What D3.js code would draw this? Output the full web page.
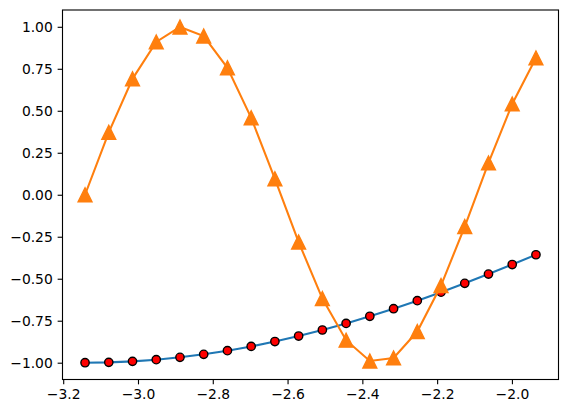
<!DOCTYPE html>
<html><head><meta charset="utf-8">
<script src="https://cdn.jsdelivr.net/npm/d3@7"></script>
<style>body{margin:0;background:#fff}svg{display:block}</style>
</head><body>
<script>
const xs = [-3.14159,-3.07813,-3.01466,-2.95119,-2.88773,-2.82426,-2.76080,-2.69733,-2.63386,-2.57040,-2.50693,-2.44346,-2.38000,-2.31653,-2.25306,-2.18960,-2.12613,-2.06267,-1.99920,-1.93573];
const blueY = [-1.0,-0.99799,-0.99195,-0.98193,-0.96795,-0.95007,-0.92837,-0.90293,-0.87385,-0.84125,-0.80527,-0.76604,-0.72373,-0.67851,-0.63057,-0.58009,-0.52730,-0.47241,-0.41564,-0.35722];
const orangeY = [0.0,0.37166,0.69008,0.90963,0.99882,0.94500,0.75575,0.45822,0.09506,-0.28173,-0.61816,-0.86603,-0.98982,-0.97181,-0.81457,-0.54064,-0.18925,0.18925,0.54064,0.81457];
const xTicks = [-3.2,-3.0,-2.8,-2.6,-2.4,-2.2,-2.0];
const yTicks = [-1.0,-0.75,-0.5,-0.25,0.0,0.25,0.5,0.75,1.0];

const W=568,H=413, L=62.5, R=558.5, T=10, B=379.5;
const pt = 100/72;
const svg = d3.select("body").append("svg").attr("width",W).attr("height",H);
const x = d3.scaleLinear().domain([-3.20189,-1.87543]).range([L,R]);
const y = d3.scaleLinear().domain([-1.1,1.1]).range([B,T]);
const fmtX = d => d3.format(".1f")(d).replace("-","\u2212");
const fmtY = d => d3.format(".2f")(d).replace("-","\u2212");

const line = d3.line().x(d=>x(d[0])).y(d=>y(d[1]));
const bData = xs.map((v,i)=>[v,blueY[i]]);
const oData = xs.map((v,i)=>[v,orangeY[i]]);

svg.append("path").datum(bData).attr("d",line).attr("fill","none").attr("stroke","#1f77b4").attr("stroke-width",1.5*pt).attr("stroke-linecap","square");
svg.selectAll("circle.b").data(bData).enter().append("circle")
  .attr("cx",d=>x(d[0])).attr("cy",d=>y(d[1])).attr("r",3*pt)
  .attr("fill","red").attr("stroke","black").attr("stroke-width",1*pt);

svg.append("path").datum(oData).attr("d",line).attr("fill","none").attr("stroke","#ff7f0e").attr("stroke-width",1.5*pt).attr("stroke-linecap","square");
const s = 5*pt;
svg.selectAll("path.t").data(oData).enter().append("path")
  .attr("d",d=>{const cx=x(d[0]),cy=y(d[1]);return `M${cx},${cy-s}L${cx-s},${cy+s}L${cx+s},${cy+s}Z`;})
  .attr("fill","#ff7f0e").attr("stroke","#ff7f0e").attr("stroke-width",1*pt).attr("stroke-linejoin","miter");

svg.append("rect").attr("x",L).attr("y",T).attr("width",R-L).attr("height",B-T)
  .attr("fill","none").attr("stroke","black").attr("stroke-width",0.8*pt);

const xAxis = svg.append("g").attr("transform",`translate(0,${B})`)
  .call(d3.axisBottom(x).tickValues(xTicks).tickFormat(fmtX).tickSize(3.5*pt).tickPadding(3.5*pt));
const yAxis = svg.append("g").attr("transform",`translate(${L},0)`)
  .call(d3.axisLeft(y).tickValues(yTicks).tickFormat(fmtY).tickSize(3.5*pt).tickPadding(3.5*pt));
[xAxis,yAxis].forEach(g=>{
  g.select(".domain").remove();
  g.selectAll("line").attr("stroke","black").attr("stroke-width",0.8*pt);
  g.selectAll("text").attr("font-family","DejaVu Sans").attr("font-size",10*pt).attr("fill","black");
});
</script>
</body></html>
